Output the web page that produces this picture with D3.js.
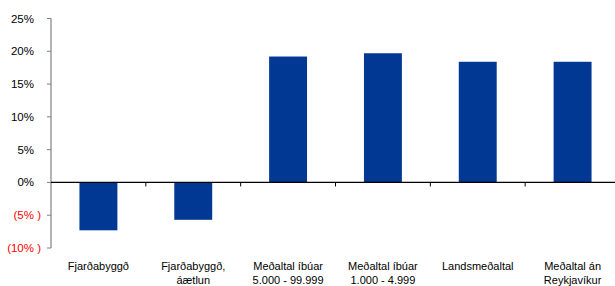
<!DOCTYPE html>
<html><head><meta charset="utf-8">
<script src="https://cdn.jsdelivr.net/npm/d3@7"></script>
<style>body{margin:0;background:#fff}svg{display:block}</style>
</head><body>
<svg id="c" width="615" height="286"></svg>
<script>
const categories = [["Fjarðabyggð"],["Fjarðabyggð,","áætlun"],["Meðaltal íbúar","5.000 - 99.999"],["Meðaltal íbúar","1.000 - 4.999"],["Landsmeðaltal"],["Meðaltal án","Reykjavíkur"]];
const values = [-7.3, -5.7, 19.2, 19.7, 18.4, 18.4];
const yTicks = [-10, -5, 0, 5, 10, 15, 20, 25];
const yTickLabels = ["(10% )","(5% )","0%","5%","10%","15%","20%","25%"];

(function(){
const svg = d3.select("#c");
const mLeft = 51, mRight = 620, mTop = 18.5, mBottom = 248;
const y = d3.scaleLinear().domain([-10, 25]).range([mBottom, mTop]);
const x = d3.scaleBand().domain(d3.range(categories.length)).range([mLeft, mRight]).paddingInner(0.6).paddingOuter(0.3);
const font = "Liberation Sans, Arial, sans-serif";

// bars
svg.selectAll("rect.bar").data(values).enter().append("rect")
  .attr("x", (d,i)=>x(i)).attr("width", x.bandwidth())
  .attr("y", d=>y(Math.max(0,d))).attr("height", d=>Math.abs(y(d)-y(0)))
  .attr("fill", "#003893");

// y axis
const gy = svg.append("g");
gy.append("line").attr("x1", mLeft).attr("x2", mLeft).attr("y1", y(25)).attr("y2", y(-10)).attr("stroke", "#808080").attr("stroke-width", 1.2);
gy.selectAll("line.t").data(yTicks).enter().append("line")
  .attr("x1", mLeft-4).attr("x2", mLeft).attr("y1", d=>y(d)).attr("y2", d=>y(d)).attr("stroke", "#808080");
gy.selectAll("text").data(yTicks).enter().append("text")
  .attr("x", d=> d<0 ? 41 : 34).attr("y", d=>y(d)).attr("dy", "0.35em")
  .attr("text-anchor", "end").attr("font-family", font).attr("font-size", 11.5)
  .attr("fill", d=> d<0 ? "#ff0000" : "#000")
  .text((d,i)=>yTickLabels[i]);

// x axis (zero line)
const step = x.step();
svg.append("line").attr("x1", mLeft).attr("x2", 615).attr("y1", y(0)).attr("y2", y(0)).attr("stroke", "#000").attr("stroke-width", 1.2);
svg.selectAll("line.xt").data(d3.range(1, categories.length)).enter().append("line")
  .attr("x1", i=>mLeft + i*step).attr("x2", i=>mLeft + i*step)
  .attr("y1", y(0)).attr("y2", y(0)+4).attr("stroke", "#000");

// category labels
const gl = svg.selectAll("text.cat").data(categories).enter().append("text")
  .attr("text-anchor", "middle").attr("font-family", font).attr("font-size", 11)
  .attr("fill", "#000");
gl.each(function(d,i){
  const t = d3.select(this);
  d.forEach((line, j)=>{
    t.append("tspan").attr("x", x(i)+x.bandwidth()/2).attr("y", 270 + j*13.5).text(line);
  });
});
})();
</script>
</body></html>
